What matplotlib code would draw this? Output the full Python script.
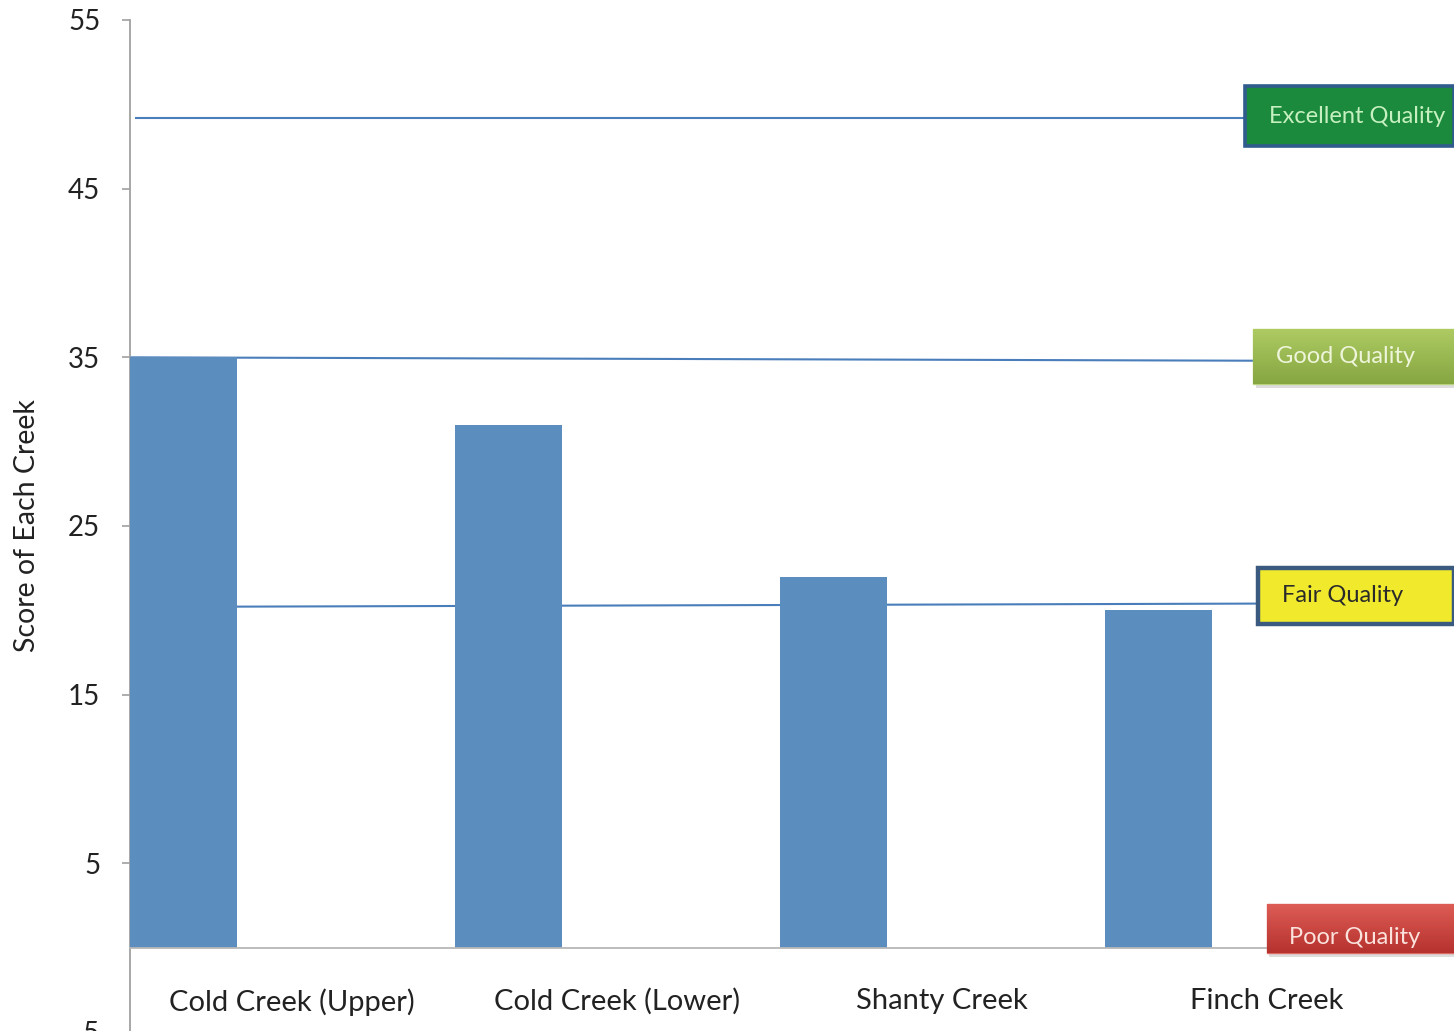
import numpy as np
import matplotlib
matplotlib.use("Agg")
import matplotlib.pyplot as plt
from matplotlib.patches import Rectangle

# ---- data ----
creeks = ["Cold Creek (Upper)", "Cold Creek (Lower)", "Shanty Creek", "Finch Creek"]
scores = [35, 31, 22, 20]
yticks = [-5, 5, 15, 25, 35, 45, 55]

quality_names = ["Excellent Quality", "Good Quality", "Fair Quality", "Poor Quality"]
quality_start = [49.2, 35.0, 20.2, 0.0]   # threshold line level at left end
quality_end = [49.2, 34.8, 20.4, 0.0]     # threshold line level at right end

plt.rcParams["font.family"] = ["Lato", "DejaVu Sans"]

fig = plt.figure(figsize=(14.54, 10.31), dpi=100)
ax = fig.add_axes([129.5 / 1454, -1 / 1031, 1300 / 1454, 1032 / 1031 - 20 / 1031])
ax.set_xlim(-0.5, 3.5)
ax.set_ylim(-5, 55)

x = np.arange(len(creeks))
bar_w = 0.33
ax.bar(x - 0.5 + bar_w / 2, scores, width=bar_w, color="#5B8DBF", zorder=3)

# styles for threshold labels
box_left = [2.932, 2.957, 2.972, 2.999]
line_left = [-0.483, -0.5, -0.5, None]
box_half_h = [1.78, 1.63, 1.66, 1.45]
label_dy = [0.1, 0.15, 0.55, 1.15]
text_x = [3.277, 3.24, 3.234, 3.271]
text_dy = [0.0, 0.0, 0.0, -0.55]
face = ["#1B8A3C", "#9DBE5A", "#F0E92C", "#C9433E"]
edge = ["#2F5C8C", "#B9D27E", "#3B5A7F", "#D96A64"]
edge_w = [2.6, 1.0, 3.2, 1.0]
txt_col = ["#C6F0C0", "#EEF5DA", "#2A2A2A", "#FBE2DC"]
gradient = [None, ("#AECB62", "#86A642"), None, ("#DE5C56", "#B5322E")]
shadow = [False, True, False, True]
right_x = 3.575

for i, name in enumerate(quality_names):
    yc = (quality_start[i] + quality_end[i]) / 2 + label_dy[i]
    y0 = yc - box_half_h[i]
    h = 2 * box_half_h[i]
    w = right_x - box_left[i]
    if line_left[i] is not None:
        ax.plot([line_left[i], box_left[i]], [quality_start[i], quality_end[i]],
                color="#4A7EBB", lw=1.5, zorder=2, solid_capstyle="butt")
    if shadow[i]:
        ax.add_patch(Rectangle((box_left[i] + 0.008, y0 - 0.25), w, h,
                               facecolor="#00000022", edgecolor="none",
                               clip_on=False, zorder=4))
    rect = Rectangle((box_left[i], y0), w, h, facecolor=face[i],
                     edgecolor=edge[i], lw=edge_w[i], clip_on=False, zorder=5)
    ax.add_patch(rect)
    if gradient[i] is not None:
        c1 = np.array(matplotlib.colors.to_rgb(gradient[i][0]))
        c2 = np.array(matplotlib.colors.to_rgb(gradient[i][1]))
        t = np.linspace(0, 1, 64)[:, None]
        img = (c1 * (1 - t) + c2 * t)[:, None, :]
        im = ax.imshow(img, extent=(box_left[i], right_x, y0, y0 + h), aspect="auto",
                       zorder=5.5, origin="upper")
        im.set_clip_path(rect)
    ty = yc + text_dy[i]
    t = ax.text(text_x[i], ty, name, ha="center", va="center", fontsize=17,
                color=txt_col[i], zorder=6)
    if i == 3:
        clip = Rectangle((box_left[i], 0.2), w, h, transform=ax.transData)
        t.set_clip_path(clip)
    else:
        t.set_clip_path(rect)

# axes styling
for s in ["top", "right"]:
    ax.spines[s].set_visible(False)
ax.spines["left"].set_color("#A0A0A0")
ax.spines["left"].set_linewidth(1.3)
ax.spines["bottom"].set_position(("data", 0))
ax.spines["bottom"].set_color("#B8B8B8")
ax.spines["bottom"].set_linewidth(1.3)
ax.spines["bottom"].set_zorder(4.5)

ax.set_yticks(yticks)
ax.tick_params(axis="y", direction="out", length=6, width=1.2, color="#A0A0A0",
               pad=15, labelsize=20, labelcolor="#222222")
ax.set_xticks(x)
ax.set_xticklabels(creeks)
ax.tick_params(axis="x", length=0, pad=29, labelsize=21, labelcolor="#222222")

ax.set_ylabel("Score of Each Creek", fontsize=20.5, color="#222222")
ax.yaxis.label.set_va("center")
ax.yaxis.set_label_coords(-0.0788, 0.5)

fig.savefig("out.png", dpi=100)
